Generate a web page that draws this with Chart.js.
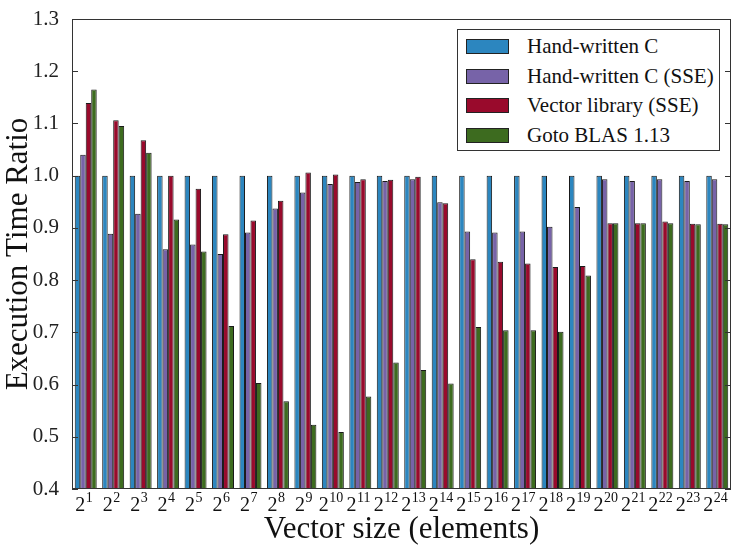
<!DOCTYPE html>
<html lang="en">
<head>
<meta charset="UTF-8">
<title>Execution Time Ratio</title>
<script src="https://cdn.jsdelivr.net/npm/chart.js"></script>
<style>
    html, body { margin: 0; padding: 0; background: #fff; }
    .wrap { position: relative; width: 736px; height: 545px; }
    #legenda {
        position: absolute; left: 457px; top: 29px; width: 261px; height: 120px;
        border: 1.5px solid #333; background: #fff; box-sizing: content-box;
        font-family: "Liberation Serif", "Times New Roman", serif; font-size: 21px; color: #111;
    }
    .item { position: absolute; left: 0; height: 29px; display: flex; align-items: center; white-space: nowrap; }
    .caixa { width: 41px; height: 13px; margin-left: 8px; margin-right: 18px; border: 1px solid #222; }
</style>
</head>
<body>
<div class="wrap">
    <canvas id="grafico" width="736" height="545"></canvas>
    <div id="legenda"></div>
</div>

<script>
    // expoentes do tamanho do vetor (2^n)
    var expoentes = ['1','2','3','4','5','6','7','8','9','10','11','12','13','14','15','16','17','18','19','20','21','22','23','24']
    var rotulos = expoentes.map(e => '2^' + e)

    var handC    = [1.0, 1.0, 1.0, 1.0, 1.0, 1.0, 1.0, 1.0, 1.0, 1.0, 1.0, 1.0, 1.0, 1.0, 1.0, 1.0, 1.0, 1.0, 1.0, 1.0, 1.0, 1.0, 1.0, 1.0]
    var handCSSE = [1.04, 0.889, 0.927, 0.859, 0.868, 0.85, 0.891, 0.937, 0.968, 0.984, 0.988, 0.99, 0.993, 0.949, 0.893, 0.891, 0.893, 0.902, 0.94, 0.993, 0.99, 0.993, 0.99, 0.993]
    var vecLib   = [1.139, 1.106, 1.068, 1.0, 0.975, 0.888, 0.914, 0.952, 1.006, 1.002, 0.993, 0.992, 0.998, 0.947, 0.84, 0.835, 0.832, 0.825, 0.827, 0.909, 0.909, 0.912, 0.908, 0.908]
    var gotoBlas = [1.165, 1.095, 1.044, 0.916, 0.855, 0.712, 0.603, 0.568, 0.523, 0.509, 0.577, 0.642, 0.628, 0.602, 0.71, 0.704, 0.704, 0.701, 0.809, 0.909, 0.909, 0.909, 0.907, 0.907]

    var nomes = ['Hand-written C', 'Hand-written C (SSE)', 'Vector library (SSE)', 'Goto BLAS 1.13']
    var cores = ['#2c86bf', '#7763a8', '#990a2c', '#3d6b1f']

    var fonte = '"Liberation Serif", "Times New Roman", serif'

    // ticks para dentro nos dois lados + moldura + rotulos 2^n
    const extras = {
        id: 'extras',
        afterDraw(chart) {
            const ctx = chart.ctx
            const a = chart.chartArea
            const y = chart.scales.y
            const x = chart.scales.x
            ctx.save()
            ctx.strokeStyle = '#333'
            ctx.lineWidth = 1
            ctx.strokeRect(a.left + 0.5, a.top + 0.5, a.right - a.left - 1, a.bottom - a.top - 1)
            y.ticks.forEach(t => {
                const py = Math.round(y.getPixelForValue(t.value)) + 0.5
                ctx.beginPath()
                ctx.moveTo(a.left, py); ctx.lineTo(a.left + 6, py)
                ctx.moveTo(a.right, py); ctx.lineTo(a.right - 6, py)
                ctx.stroke()
            })
            ctx.fillStyle = '#111'
            ctx.textBaseline = 'alphabetic'
            rotulos.forEach((r, i) => {
                const partes = r.split('^')
                const cx = x.getPixelForTick(i) - 2
                ctx.font = '20px ' + fonte
                const wb = ctx.measureText(partes[0]).width
                ctx.font = '14px ' + fonte
                const we = ctx.measureText(partes[1]).width
                const x0 = cx - (wb + we) / 2
                ctx.font = '20px ' + fonte
                ctx.fillText(partes[0], x0, 511)
                ctx.font = '14px ' + fonte
                ctx.fillText(partes[1], x0 + wb + 0.5, 502)
            })
            ctx.restore()
        }
    }

    const dados = {
        labels: rotulos,
        datasets: [handC, handCSSE, vecLib, gotoBlas].map((d, i) => ({
            label: nomes[i],
            data: d,
            backgroundColor: cores[i],
            borderColor: '#1a1a1a',
            borderWidth: 1,
            borderSkipped: 'bottom',
            categoryPercentage: 0.8,
            barPercentage: 1.0
        }))
    }

    const grafico = new Chart(document.getElementById('grafico'), {
        type: 'bar',
        data: dados,
        options: {
            responsive: false,
            animation: false,
            layout: { padding: { top: 19, right: 5, left: 0, bottom: 0 } },
            plugins: {
                legend: { display: false },
                tooltip: { enabled: false }
            },
            scales: {
                x: {
                    grid: { display: false },
                    border: { display: false },
                    ticks: { display: false },
                    title: {
                        display: true,
                        text: 'Vector size (elements)',
                        color: '#111',
                        font: { family: fonte, size: 31 },
                        padding: { top: 0, bottom: -3 }
                    },
                    afterFit: s => { s.height = 56 }
                },
                y: {
                    min: 0.4,
                    max: 1.3,
                    grid: { display: false },
                    border: { display: false },
                    ticks: {
                        stepSize: 0.1,
                        padding: 5,
                        color: '#222',
                        font: { family: fonte, size: 21 },
                        callback: v => v.toFixed(1)
                    },
                    title: {
                        display: true,
                        text: 'Execution Time Ratio',
                        color: '#111',
                        font: { family: fonte, size: 31 },
                        padding: { top: 0, bottom: 0 }
                    },
                    afterFit: s => { s.width = 72 }
                }
            }
        },
        plugins: [extras]
    })

    // legenda em html
    var leg = document.getElementById('legenda')
    nomes.forEach((n, i) => {
        var item = document.createElement('div')
        item.className = 'item'
        item.style.top = (2 + i * 29.5) + 'px'
        item.innerHTML = '<span class="caixa" style="background:' + cores[i] + '"></span><span>' + n + '</span>'
        leg.appendChild(item)
    })
</script>
</body>
</html>
